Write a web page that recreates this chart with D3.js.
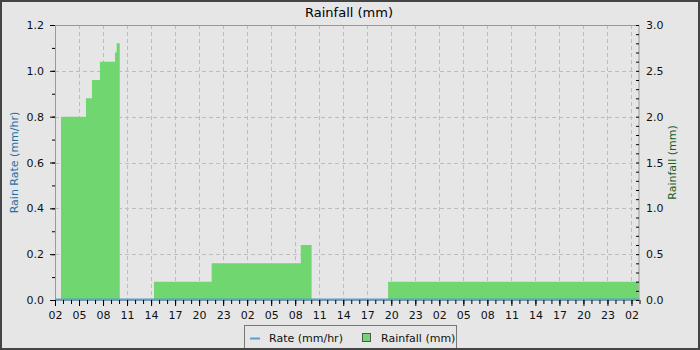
<!DOCTYPE html>
<html>
<head>
<meta charset="utf-8">
<script src="https://cdn.jsdelivr.net/npm/d3@7"></script>
<style>
  html, body { margin: 0; padding: 0; background: #e6e6e6; }
  svg { display: block; font-family: "DejaVu Sans", sans-serif; }
</style>
</head>
<body>
<svg id="chart" width="700" height="350"></svg>
<script>
// ---- data ----
const startTime = new Date(2024, 0, 1, 2, 0);           // 02:00 day 1
const spanHours = 73;
// rainfall step segments (hours after start)
const segStartHr = [0.75, 3.87, 4.62, 5.62, 7.5, 7.7, 12.36, 19.56, 30.7, 41.6];
const segEndHr   = [3.87, 4.62, 5.62, 7.5, 7.7, 8.08, 19.56, 30.7, 32.05, 73];
const segRain    = [2.0, 2.2, 2.4, 2.6, 2.7, 2.8, 0.2, 0.4, 0.6, 0.2];
// rain rate series
const rateHr   = [0, 73];
const rateVals = [0, 0];
const rateTicks = [0, 0.2, 0.4, 0.6, 0.8, 1.0, 1.2];
const rainTicks = [0.0, 0.5, 1.0, 1.5, 2.0, 2.5, 3.0];
const title = "Rainfall (mm)";
const leftTitle = "Rain Rate (mm/hr)";
const rightTitle = "Rainfall (mm)";
const legendLabels = ["Rate (mm/hr)", "Rainfall (mm)"];

// ---- layout ----
const W = 700, H = 350;
const L = 55, R = 639.5, T = 25, B = 300;
const svg = d3.select("#chart");
const hr = h => d3.timeMinute.offset(startTime, Math.round(h * 60));

const x = d3.scaleTime().domain([startTime, hr(spanHours)]).range([L, R]);
const yL = d3.scaleLinear().domain([0, 1.2]).range([B, T]);
const yR = d3.scaleLinear().domain([0, 3.0]).range([B, T]);

svg.append("rect").attr("x", 0).attr("y", 0).attr("width", W).attr("height", H).attr("fill", "#e6e6e6");

// grid
const hourTicks = d3.timeHour.range(startTime, d3.timeMinute.offset(hr(spanHours), 1), 1);
const majorX = hourTicks.filter(d => ((d.getHours() - 2) % 3 + 3) % 3 === 0);
const grid = svg.append("g").attr("stroke", "#bdbdbd").attr("stroke-dasharray", "4,3").attr("stroke-width", 1);
majorX.slice(1).forEach(d => {
  const xx = Math.round(x(d)) + 0.5;
  grid.append("line").attr("x1", xx).attr("x2", xx).attr("y1", T).attr("y2", B);
});
rateTicks.slice(1, -1).forEach(v => {
  const yy = Math.round(yL(v)) + 0.5;
  grid.append("line").attr("x1", L).attr("x2", R).attr("y1", yy).attr("y2", yy);
});

// bars: contiguous segments merged into one step outline per group
const segs = segRain.map((v, i) => ({ s: hr(segStartHr[i]), e: hr(segEndHr[i]), v }));
const groups = [];
segs.forEach(d => {
  const g = groups[groups.length - 1];
  if (g && +g[g.length - 1].e === +d.s) g.push(d); else groups.push([d]);
});
svg.append("g").selectAll("path").data(groups).join("path")
  .attr("d", g => {
    const xe = d => Math.min(x(d.e), R - 1);
    let p = `M${x(g[0].s)},${B}`;
    g.forEach(d => { p += `L${x(d.s)},${yR(d.v)}L${xe(d)},${yR(d.v)}`; });
    p += `L${xe(g[g.length - 1])},${B}Z`;
    return p;
  })
  .attr("fill", "#70d670");

// frame
svg.append("rect").attr("x", L + 0.5).attr("y", T + 0.5).attr("width", R - L - 1).attr("height", B - T)
  .attr("fill", "none").attr("stroke", "#999").attr("stroke-width", 1);

// rate line
const rateData = rateHr.map((h, i) => ({ t: hr(h), v: rateVals[i] }));
svg.append("path").datum(rateData)
  .attr("d", d3.line().x(d => x(d.t)).y(d => yL(d.v) - 0.5))
  .attr("fill", "none").attr("stroke", "#5b9fcf").attr("stroke-width", 2);

// x axis
const xAxisG = svg.append("g").attr("transform", `translate(0,${B})`);
xAxisG.call(d3.axisBottom(x).tickValues(hourTicks).tickSize(4).tickFormat(""))
  .call(g => g.select(".domain").remove())
  .call(g => g.selectAll("line").attr("stroke", "#000"));
const xMajor = svg.append("g").attr("transform", `translate(0,${B})`);
xMajor.call(d3.axisBottom(x).tickValues(majorX).tickSize(6).tickPadding(5).tickFormat(d3.timeFormat("%H")))
  .call(g => g.select(".domain").remove())
  .call(g => g.selectAll("line").attr("stroke", "#000"))
  .call(g => g.selectAll("text").attr("font-size", 11).attr("fill", "#111").attr("font-family", "DejaVu Sans"));

// left axis
const minorL = d3.range(0, 1.21, 0.1);
svg.append("g").attr("transform", `translate(${L},0)`)
  .call(d3.axisLeft(yL).tickValues(minorL).tickSize(3).tickFormat(""))
  .call(g => g.select(".domain").remove())
  .call(g => g.selectAll("line").attr("stroke", "#000"));
svg.append("g").attr("transform", `translate(${L},0)`)
  .call(d3.axisLeft(yL).tickValues(rateTicks).tickSize(5).tickPadding(6).tickFormat(d3.format(".1f")))
  .call(g => g.select(".domain").remove())
  .call(g => g.selectAll("line").attr("stroke", "#000"))
  .call(g => g.selectAll("text").attr("font-size", 11).attr("fill", "#111").attr("font-family", "DejaVu Sans"));

// right axis
const minorR = d3.range(0, 3.01, 0.1);
svg.append("g").attr("transform", `translate(${R - 0.5},0)`)
  .call(d3.axisLeft(yR).tickValues(minorR).tickSize(3).tickFormat(""))
  .call(g => g.select(".domain").remove())
  .call(g => g.selectAll("line").attr("stroke", "#000"));
svg.append("g").attr("transform", `translate(${R - 0.5},0)`)
  .call(d3.axisRight(yR).tickValues(rainTicks).tickSize(0).tickPadding(7).tickFormat(d3.format(".1f")))
  .call(g => g.select(".domain").remove())
  .call(g => g.selectAll("text").attr("font-size", 11).attr("fill", "#111").attr("font-family", "DejaVu Sans"));

// titles
svg.append("text").attr("x", 349).attr("y", 17).attr("text-anchor", "middle")
  .attr("font-size", 13).attr("fill", "#000").text(title);
svg.append("text").attr("transform", `translate(18,${(T + B) / 2}) rotate(-90)`)
  .attr("text-anchor", "middle").attr("font-size", 11).attr("fill", "#1e6fa5").text(leftTitle);
svg.append("text").attr("transform", `translate(676,${(T + B) / 2}) rotate(-90)`)
  .attr("text-anchor", "middle").attr("font-size", 11).attr("fill", "#1c5e1c").text(rightTitle);

// legend
const lg = svg.append("g");
lg.append("rect").attr("x", 244.5).attr("y", 325.5).attr("width", 212).attr("height", 26)
  .attr("fill", "#e6e6e6").attr("stroke", "#777");
lg.append("line").attr("x1", 250).attr("x2", 260).attr("y1", 338.5).attr("y2", 338.5)
  .attr("stroke", "#5b9fcf").attr("stroke-width", 2);
lg.append("text").attr("x", 269).attr("y", 342).attr("font-size", 11).attr("fill", "#111").text(legendLabels[0]);
lg.append("rect").attr("x", 362.5).attr("y", 333.5).attr("width", 8).attr("height", 8)
  .attr("fill", "#70d670").attr("stroke", "#555");
lg.append("text").attr("x", 381).attr("y", 342).attr("font-size", 11).attr("fill", "#111").text(legendLabels[1]);

// outer border
svg.append("rect").attr("x", 1).attr("y", 1).attr("width", W - 2).attr("height", H - 2)
  .attr("fill", "none").attr("stroke", "#444").attr("stroke-width", 2);
</script>
</body>
</html>
